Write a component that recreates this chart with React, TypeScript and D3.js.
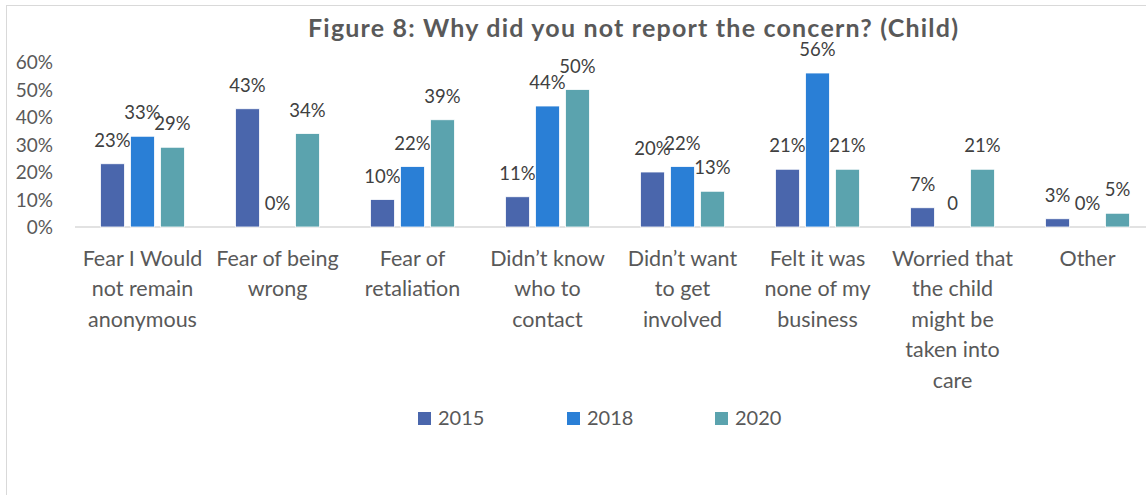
import * as d3 from "d3"

const categories = [
  "Fear I Would not remain anonymous",
  "Fear of being wrong",
  "Fear of retaliation",
  "Didn\u2019t know who to contact",
  "Didn\u2019t want to get involved",
  "Felt it was none of my business",
  "Worried that the child might be taken into care",
  "Other",
]
const categoryLines = [
  ["Fear I Would", "not remain", "anonymous"],
  ["Fear of being", "wrong"],
  ["Fear of", "retaliation"],
  ["Didn\u2019t know", "who to", "contact"],
  ["Didn\u2019t want", "to get", "involved"],
  ["Felt it was", "none of my", "business"],
  ["Worried that", "the child", "might be", "taken into", "care"],
  ["Other"],
]
const seriesNames = ["2015", "2018", "2020"]
const values2015 = [23, 43, 10, 11, 20, 21, 7, 3]
const values2018 = [33, 0, 22, 44, 22, 56, 0, 0]
const values2020 = [29, 34, 39, 50, 13, 21, 21, 5]
const labels2018 = ["33%", "0%", "22%", "44%", "22%", "56%", "0", "0%"]
const yTicks = [0, 10, 20, 30, 40, 50, 60]
const colors = ["#4A66AC", "#2A7FD6", "#5BA3AE"]

const FONT = "Lato, 'Open Sans', sans-serif"

export default function App() {
  const W = 1146
  const H = 495
  const x = d3.scaleBand<string>().domain(categories).range([75, 1155])
  const xs = d3.scaleBand<string>().domain(seriesNames).range([-45, 45]).paddingInner(0.2).paddingOuter(0.1)
  const y = d3.scaleLinear().domain([0, 60]).range([227, 62])
  const series = [values2015, values2018, values2020]
  const labelFor = (s: number, i: number) =>
    s === 1 ? labels2018[i] : `${series[s][i]}%`

  return (
    <svg width={W} height={H} style={{ position: "absolute", left: 0, top: 0, background: "#fff" }} fontFamily={FONT}>
      <rect x={6.5} y={5.5} width={W + 20} height={H + 20} fill="#fff" stroke="#d9d9d9" />
      <text x={633} y={37} textAnchor="middle" fontSize={25} fontWeight="bold" fill="#595959"
        textLength={650} lengthAdjust="spacing">
        Figure 8: Why did you not report the concern? (Child)
      </text>
      {yTicks.map(t => (
        <text key={t} x={53} y={y(t) + 7} textAnchor="end" fontSize={19} fill="#595959">{`${t}%`}</text>
      ))}
      <line x1={75} x2={1155} y1={y(0)} y2={y(0)} stroke="#d9d9d9" strokeWidth={1.5} />
      {categories.map((c, i) => (
        <g key={c} transform={`translate(${x(c)! + x.bandwidth() / 2},0)`}>
          {series.map((vals, s) => {
            const bx = xs(seriesNames[s])!
            const top = y(vals[i])
            return (
              <g key={s}>
                {vals[i] > 0 && (
                  <rect x={bx} y={top} width={xs.bandwidth()} height={y(0) - top} fill={colors[s]} stroke="#fff" strokeWidth={0.8} />
                )}
                <text x={bx + xs.bandwidth() / 2} y={top - 17} textAnchor="middle" fontSize={18.5} fill="#404040">
                  {labelFor(s, i)}
                </text>
              </g>
            )
          })}
          {categoryLines[i].map((ln, k) => (
            <text key={k} x={0} y={265.5 + k * 30.5} textAnchor="middle" fontSize={21.5} fill="#595959">{ln}</text>
          ))}
        </g>
      ))}
      {seriesNames.map((n, s) => {
        const lx = [418, 567, 715][s]
        return (
          <g key={n}>
            <rect x={lx} y={412} width={13} height={13} fill={colors[s]} />
            <text x={lx + 20} y={425} fontSize={20} fill="#595959">{n}</text>
          </g>
        )
      })}
    </svg>
  )
}
